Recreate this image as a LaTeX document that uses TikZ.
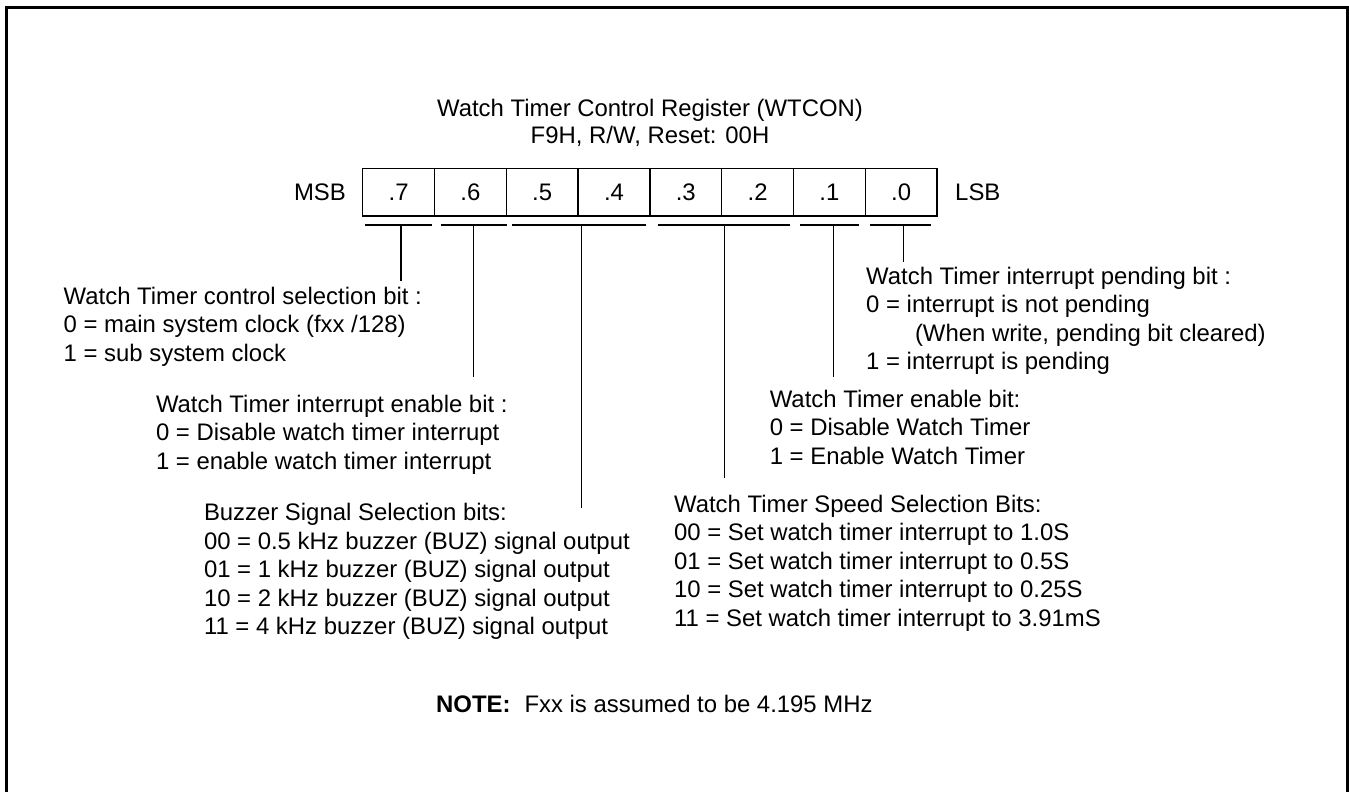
\documentclass[tikz,border=0pt]{standalone}
\usepackage{fontspec}
\setmainfont{Liberation Sans}
\begin{document}
\begin{tikzpicture}[x=1pt,y=-1pt,
  txtfont/.style={font=\fontsize{23.9}{28.4}\selectfont},
  txt/.style={txtfont, inner sep=0pt, anchor=base west},
  cell/.style={draw, line width=1.3pt, minimum width=71.8pt, minimum height=47.7pt, inner sep=0pt, txtfont},
  ln/.style={line width=1.3pt},
  frame/.style={line width=2.7pt}]
\useasboundingbox (0,0) rectangle (1349,792);
\clip (0,0) rectangle (1349,792);
\draw[frame] (6.2,7.3) rectangle (1347.8,830);

% title
\node[txtfont, inner sep=0pt, anchor=base] (title) at (650,116.7)
  {\begin{tabular}[t]{@{}c@{}}Watch Timer Control Register (WTCON)\\[-1.8pt] F9H, R/W, Reset: 00H\end{tabular}};

% register cells
\node[cell] (b7) at (398.6,192.15) {.7};
\node[cell] (b6) at (470.4,192.15) {.6};
\node[cell] (b5) at (542.2,192.15) {.5};
\node[cell] (b4) at (614.0,192.15) {.4};
\node[cell] (b3) at (685.8,192.15) {.3};
\node[cell] (b2) at (757.6,192.15) {.2};
\node[cell] (b1) at (829.4,192.15) {.1};
\node[cell] (b0) at (901.2,192.15) {.0};
\node[txt, anchor=base east] (msb) at (346,200.5) {MSB};
\node[txt] (lsb) at (955,200.5) {LSB};

% underlines
\draw[ln] (364.9,225) -- (431.9,225);
\draw[ln] (440.6,225) -- (506.8,225);
\draw[ln] (512.4,225) -- (645.7,225);
\draw[ln] (658.2,225) -- (790.2,225);
\draw[ln] (800.2,225) -- (858.6,225);
\draw[ln] (870.3,225) -- (931.0,225);

% tick coordinates
\coordinate (t7) at (401,225);   \coordinate (e7) at (401,280.7);
\coordinate (t6) at (473.3,225); \coordinate (e6) at (473.3,376.7);
\coordinate (t54) at (581.5,225); \coordinate (e54) at (581.5,508.3);
\coordinate (t32) at (724.8,225); \coordinate (e32) at (724.8,478.3);
\coordinate (t1) at (833.4,225); \coordinate (e1) at (833.4,376.7);
\coordinate (t0) at (903.5,225); \coordinate (e0) at (903.5,262);
\draw[ln] (t7) -- (e7);
\draw[ln] (t6) -- (e6);
\draw[ln] (t54) -- (e54);
\draw[ln] (t32) -- (e32);
\draw[ln] (t1) -- (e1);
\draw[ln] (t0) -- (e0);

% descriptions
\node[txt] (ctl) at (63.5,304.2) {\begin{tabular}[t]{@{}l@{}}Watch Timer control selection bit :\\ 0 = main system clock (fxx /128)\\ 1 = sub system clock\end{tabular}};
\node[txt] (ien) at (155.8,412.5) {\begin{tabular}[t]{@{}l@{}}Watch Timer interrupt enable bit :\\ 0 = Disable watch timer interrupt\\ 1 = enable watch timer interrupt\end{tabular}};
\node[txt] (buz) at (203.8,520.8) {\begin{tabular}[t]{@{}l@{}}Buzzer Signal Selection bits:\\ 00 = 0.5 kHz buzzer (BUZ) signal output\\ 01 = 1 kHz buzzer (BUZ) signal output\\ 10 = 2 kHz buzzer (BUZ) signal output\\ 11 = 4 kHz buzzer (BUZ) signal output\end{tabular}};
\node[txt] (pend) at (866,284.2) {\begin{tabular}[t]{@{}l@{}}Watch Timer interrupt pending bit :\\ 0 = interrupt is not pending\\ \hspace*{48.8pt}(When write, pending bit cleared)\\ 1 = interrupt is pending\end{tabular}};
\node[txt] (wen) at (769.6,407.5) {\begin{tabular}[t]{@{}l@{}}Watch Timer enable bit:\\ 0 = Disable Watch Timer\\ 1 = Enable Watch Timer\end{tabular}};
\node[txt] (spd) at (673.9,512.5) {\begin{tabular}[t]{@{}l@{}}Watch Timer Speed Selection Bits:\\ 00 = Set watch timer interrupt to 1.0S\\ 01 = Set watch timer interrupt to 0.5S\\ 10 = Set watch timer interrupt to 0.25S\\ 11 = Set watch timer interrupt to 3.91mS\end{tabular}};

\node[txt] (note) at (436,712.5) {\textbf{NOTE:}\hspace{14pt}Fxx is assumed to be 4.195 MHz};
\end{tikzpicture}
\end{document}
